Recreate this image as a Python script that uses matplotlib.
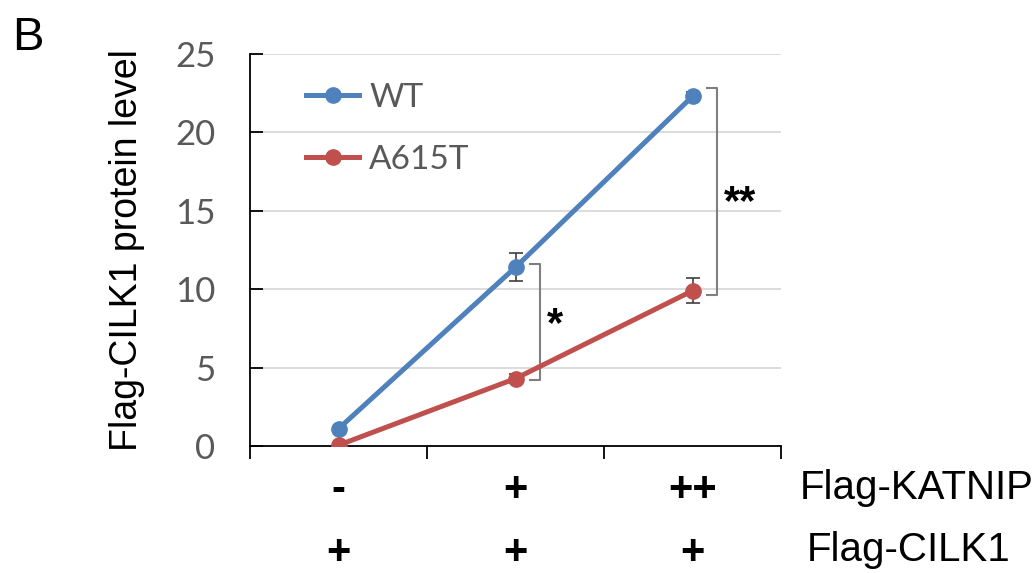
import matplotlib
matplotlib.use("Agg")
import matplotlib.pyplot as plt
from matplotlib.lines import Line2D

plt.rcParams['font.family'] = ['Liberation Sans', 'DejaVu Sans']

x_pos = [0, 1, 2]
wt_values = [1.1, 11.4, 22.3]
wt_err = [0.0, 0.9, 0.3]
mut_values = [0.05, 4.3, 9.9]
mut_err = [0.0, 0.3, 0.8]
series_names = ["WT", "A615T"]
yticks = [0, 5, 10, 15, 20, 25]
katnip_labels = ["-", "+", "++"]
cilk1_labels = ["+", "+", "+"]
row_names = ["Flag-KATNIP", "Flag-CILK1"]

blue = "#4F81BD"
red = "#C0504D"
gray_txt = "#595959"

fig = plt.figure(figsize=(10.35, 5.73), dpi=100)
ax = fig.add_axes([250/1035, 127/573, 531/1035, 392/573])

ax.set_xlim(-0.5, 2.5)
ax.set_ylim(0, 25)
ax.set_yticks(yticks)
ax.yaxis.grid(True, color="#D9D9D9", lw=1.3)
ax.set_axisbelow(True)
for s in ["top", "right"]:
    ax.spines[s].set_visible(False)
ax.spines["left"].set_color("black")
ax.spines["bottom"].set_color("black")
ax.spines["left"].set_linewidth(1.3)
ax.spines["bottom"].set_linewidth(1.3)
ax.tick_params(axis="y", direction="in", length=9, width=1.3, colors="black",
               labelcolor=gray_txt, labelsize=25, pad=25)
for lab in ax.get_yticklabels():
    lab.set_family(['Lato', 'DejaVu Sans'])
ax.set_xticks([-0.5, 0.5, 1.5, 2.5])
ax.set_xticklabels([])
ax.tick_params(axis="x", direction="out", length=9, width=1.3)

ax.errorbar(x_pos, wt_values, yerr=wt_err, color=blue, lw=3.6, marker="o",
            markersize=11, ecolor="#404040", elinewidth=1.2, capsize=5,
            capthick=1.2, zorder=3)
ax.errorbar(x_pos, mut_values, yerr=mut_err, color=red, lw=3.6, marker="o",
            markersize=11, ecolor="#404040", elinewidth=1.2, capsize=5,
            capthick=1.2, zorder=3)

# significance brackets
def bracket(x, y0, y1, text, tx, ty):
    ax.plot([x - 0.06, x, x, x - 0.06], [y0, y0, y1, y1], color="#7F7F7F", lw=1.5,
            clip_on=False)
    ax.text(tx, ty, text, fontsize=30, fontweight="bold", ha="left",
            va="center", color="black")

bracket(1.14, 4.2, 11.6, "*", 1.18, 7.7)
bracket(2.14, 9.6, 22.8, "**", 2.18, 15.5)

handles = [Line2D([], [], color=blue, lw=3.6, marker="o", markersize=11),
           Line2D([], [], color=red, lw=3.6, marker="o", markersize=11)]
leg = ax.legend(handles, series_names, loc="upper left",
                bbox_to_anchor=((306 - 250) / 531, (446 - 83) / 392),
                frameon=False, prop={'family': ['Lato', 'DejaVu Sans'], 'size': 24},
                handlelength=1.6, labelspacing=0.95, handletextpad=0.3,
                borderpad=0, borderaxespad=0, labelcolor=gray_txt)

ax.set_ylabel("Flag-CILK1 protein level", fontsize=27)
ax.yaxis.set_label_coords((145 - 250) / 531, 0.5)

# row labels below
for xi, lab in zip(x_pos, katnip_labels):
    ax.text(xi, -2.8, lab, fontsize=30, fontweight="bold", ha="center", va="center",
            clip_on=False)
for xi, lab in zip(x_pos, cilk1_labels):
    ax.text(xi, -6.8, lab, fontsize=30, fontweight="bold", ha="center", va="center",
            clip_on=False)
fig.text(800/1035, 1 - 488/573, row_names[0], fontsize=29, ha="left", va="center")
fig.text(807/1035, 1 - 550/573, row_names[1], fontsize=29, ha="left", va="center")

fig.text(12/1035, 1 - 38/573, "B", fontsize=34, ha="left", va="center")

fig.savefig("out.png", dpi=100)
